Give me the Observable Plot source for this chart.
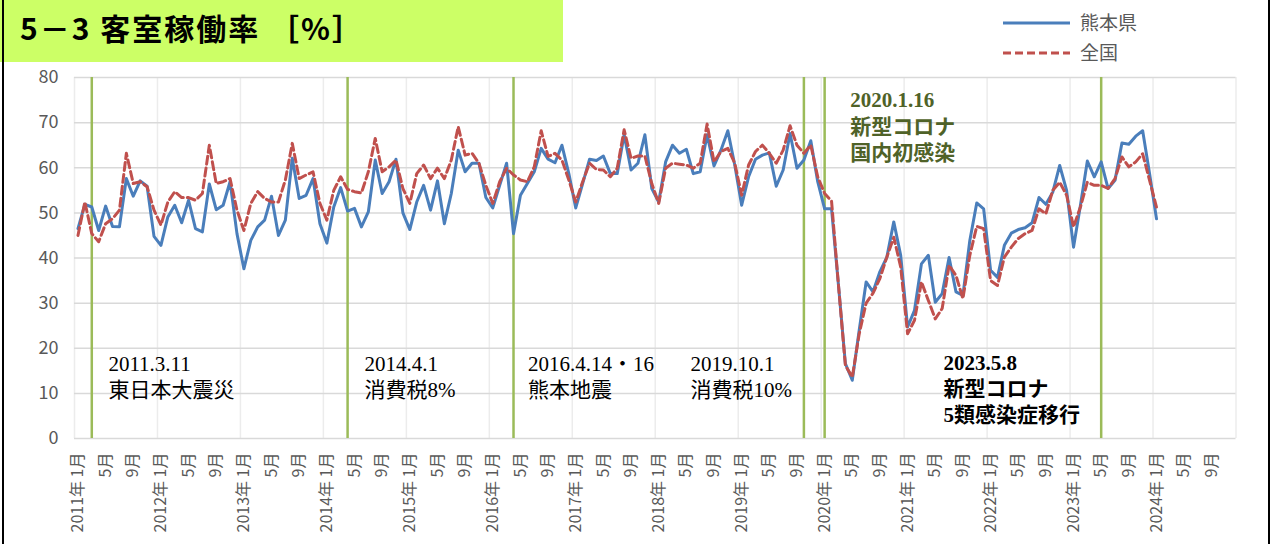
<!DOCTYPE html>
<html><head><meta charset="utf-8">
<script src="https://cdn.jsdelivr.net/npm/d3@7"></script>
<script src="https://cdn.jsdelivr.net/npm/@observablehq/plot@0.6"></script>
<style>
body{margin:0;background:#fff;}
#wrap{position:relative;width:1277px;height:544px;overflow:hidden;font-family:"Noto Sans CJK JP","Noto Sans",sans-serif;}
#chart{position:absolute;left:0;top:0;}
#title{position:absolute;left:0;top:0;width:563px;height:62px;background:#ccff66;}
#title span{position:absolute;left:20px;top:8px;font-size:30px;font-weight:bold;color:#000;white-space:nowrap;line-height:38px;letter-spacing:2px;}
#border{position:absolute;left:2px;top:0;width:1268px;height:544px;border-left:2px solid #000;border-right:2px solid #000;pointer-events:none;box-sizing:border-box;}
#legend{position:absolute;left:995px;top:6px;}
</style></head>
<body>
<div id="wrap">
  <div id="chart"></div>
  <div id="title"><span>5－3 客室稼働率 ［%］</span></div>
  <svg id="legend" width="200" height="66"></svg>
  <div id="border"></div>
</div>
<script>
// ---- data ----
const startYear = 2011; // series begins 2011年1月, monthly
const kumamoto = [
 46.5,51.9,51.3,46.1,51.5,47.0,46.9,57.6,53.7,57.1,55.9,44.8,
 42.8,49.1,51.7,47.8,52.8,46.5,45.8,56.4,50.7,51.7,56.9,45.4,
 37.6,43.9,46.9,48.4,53.7,45.0,48.4,62.1,53.2,53.9,57.6,47.6,
 43.3,51.3,55.6,50.4,51.0,46.9,50.2,61.7,54.3,56.9,61.9,50.0,
 46.3,52.4,56.1,50.6,57.1,47.6,54.3,63.9,59.1,61.0,61.0,53.4,
 51.1,56.1,61.0,45.4,53.9,56.5,59.1,64.3,61.9,61.1,65.0,58.7,
 51.1,56.5,61.9,61.6,62.6,58.7,58.7,67.3,59.5,61.0,67.3,55.4,
 52.4,61.3,65.0,63.2,64.1,58.7,59.1,67.3,60.4,63.9,68.2,60.6,
 51.7,58.0,61.9,62.8,63.3,55.9,59.5,67.6,59.9,61.7,66.0,56.9,
 50.9,50.9,34.0,16.6,12.9,24.0,34.7,32.5,37.0,40.2,48.0,40.6,
 24.7,28.4,38.7,40.6,30.2,32.1,40.1,32.5,31.7,43.9,52.2,50.9,
 37.3,35.7,42.8,45.5,46.3,46.7,47.8,53.4,51.9,54.6,60.5,55.0,
 42.4,51.7,61.5,58.0,61.3,55.4,57.2,65.5,65.2,67.0,68.2,58.7,
 48.7
];
const zenkoku = [
 45.0,52.4,45.4,43.6,47.6,48.7,50.6,63.2,56.5,56.9,55.8,50.6,
 47.3,52.4,54.7,53.4,53.4,52.8,54.3,65.0,56.5,56.9,57.6,50.6,
 46.1,52.1,54.7,53.2,52.4,52.4,57.3,65.4,57.6,58.4,59.1,52.1,
 48.4,55.0,58.0,55.2,54.7,54.4,59.1,66.5,59.1,60.2,61.7,55.4,
 52.1,58.7,60.6,57.6,59.9,57.6,61.7,69.1,62.8,63.2,61.0,56.1,
 52.1,56.9,59.9,58.4,57.3,56.9,60.2,68.2,62.5,63.2,61.7,57.3,
 52.4,56.9,61.0,59.6,59.5,58.0,59.9,68.4,62.1,62.6,62.6,56.5,
 52.1,59.9,61.0,60.8,60.6,59.9,61.0,69.7,61.3,63.6,64.3,61.0,
 53.9,60.6,63.6,65.0,63.2,61.0,63.9,69.3,65.0,63.2,65.0,58.0,
 54.3,52.6,34.0,16.2,13.6,23.2,30.0,32.2,35.5,40.2,44.6,38.0,
 23.2,26.2,34.7,30.6,26.5,28.8,38.4,36.1,31.0,40.6,47.0,46.5,
 35.0,33.9,40.2,42.4,44.3,45.4,46.1,50.9,49.8,55.0,56.8,53.9,
 46.9,51.3,56.8,56.1,56.1,55.4,57.6,62.4,60.2,61.3,63.1,57.2,
 51.3
];
const seriesNames = ["熊本県", "全国"];
const yTicks = [0,10,20,30,40,50,60,70,80];
const tickMonthsOfYear = [1,5,9];
const axisYears = 14; // 2011〜2024
// events: month index from 2011年1月
const eventMonths = [2, 39, 63, 105, 108, 148];
const eventTexts = [
 "2011.3.11\n東日本大震災",
 "2014.4.1\n消費税8%",
 "2016.4.14・16\n熊本地震",
 "2019.10.1\n消費税10%",
 "2020.1.16\n新型コロナ\n国内初感染",
 "2023.5.8\n新型コロナ\n5類感染症移行"
];
// label anchor in data units (month index, %)
const eventLabelX = [4.4, 41.45, 65.1, 88.6, 111.7, 125.2];
const eventLabelY = [14.0, 14.0, 14.0, 14.0, 69.4, 11.3];

// ---- build ----
const nMonths = axisYears * 12;
const xTicks = d3.range(0, nMonths).filter(i => tickMonthsOfYear.includes(i % 12 + 1));
const fmt = i => {
  const yr = startYear + Math.floor(i / 12), mo = i % 12 + 1;
  return mo === 1 ? `${yr}年 1月` : `${mo}月`;
};
const yearBounds = d3.range(0, axisYears + 1).map(k => k * 12 - 0.5);
const labels = eventTexts.map((t, i) => ({t, x: eventLabelX[i], y: eventLabelY[i], k: i}));
const plain = labels.filter(d => d.k < 4);
const covid1 = labels.filter(d => d.k === 4);
const covid2 = labels.filter(d => d.k === 5);
const serif = "'Liberation Serif','Noto Sans CJK JP',serif";

const chart = Plot.plot({
  width: 1277, height: 544,
  marginLeft: 74, marginRight: 41.5, marginTop: 77, marginBottom: 106,
  x: {type: "linear", domain: [-0.5, nMonths - 0.5]},
  y: {domain: [0, 80]},
  style: {fontFamily: "'Noto Sans CJK JP','Noto Sans',sans-serif", color: "#595959", background: "transparent"},
  marks: [
    Plot.ruleX(yearBounds, {stroke: "#ececec", strokeWidth: 1.5}),
    Plot.ruleY(yTicks, {stroke: "#d9d9d9", strokeWidth: 1.5}),
    Plot.ruleX(eventMonths, {stroke: "#9bbb59", strokeWidth: 2.5}),
    Plot.lineY(kumamoto, {x: (d, i) => i, y: d => d, stroke: "#4a7ebb", strokeWidth: 3}),
    Plot.lineY(zenkoku, {x: (d, i) => i, y: d => d, stroke: "#c0504d", strokeWidth: 3, strokeDasharray: "8,4"}),
    Plot.axisY(yTicks, {tickSize: 0, tickPadding: 16, fontSize: 18, label: null, fill: "#595959"}),
    Plot.axisX(xTicks, {tickSize: 0, tickPadding: 14, tickRotate: -90, fontSize: 16, label: null, tickFormat: fmt, fill: "#595959"}),
    Plot.text(plain, {x: "x", y: "y", text: "t", textAnchor: "start", lineAnchor: "middle", lineHeight: 1.25, fontSize: 21, fill: "#000", fontFamily: serif}),
    Plot.text(covid1, {x: "x", y: "y", text: "t", textAnchor: "start", lineAnchor: "middle", lineHeight: 1.25, fontSize: 21, fill: "#4f6228", fontWeight: "bold", fontFamily: serif}),
    Plot.text(covid2, {x: "x", y: "y", text: "t", textAnchor: "start", lineAnchor: "middle", lineHeight: 1.25, fontSize: 21, fill: "#000", fontWeight: "bold", fontFamily: serif})
  ]
});
document.getElementById("chart").appendChild(chart);

// legend
const lg = d3.select("#legend");
const items = [
  {name: seriesNames[0], stroke: "#4a7ebb", dash: null},
  {name: seriesNames[1], stroke: "#c0504d", dash: "8,4"}
];
items.forEach((it, i) => {
  const y = 17 + i * 30;
  lg.append("line").attr("x1", 8).attr("x2", 75).attr("y1", y).attr("y2", y)
    .attr("stroke", it.stroke).attr("stroke-width", 3).attr("stroke-dasharray", it.dash);
  lg.append("text").attr("x", 85).attr("y", y).attr("dy", "0.35em")
    .attr("font-size", 19).attr("fill", "#595959")
    .attr("font-family", "'Noto Sans CJK JP',sans-serif").text(it.name);
});
</script>
</body></html>
